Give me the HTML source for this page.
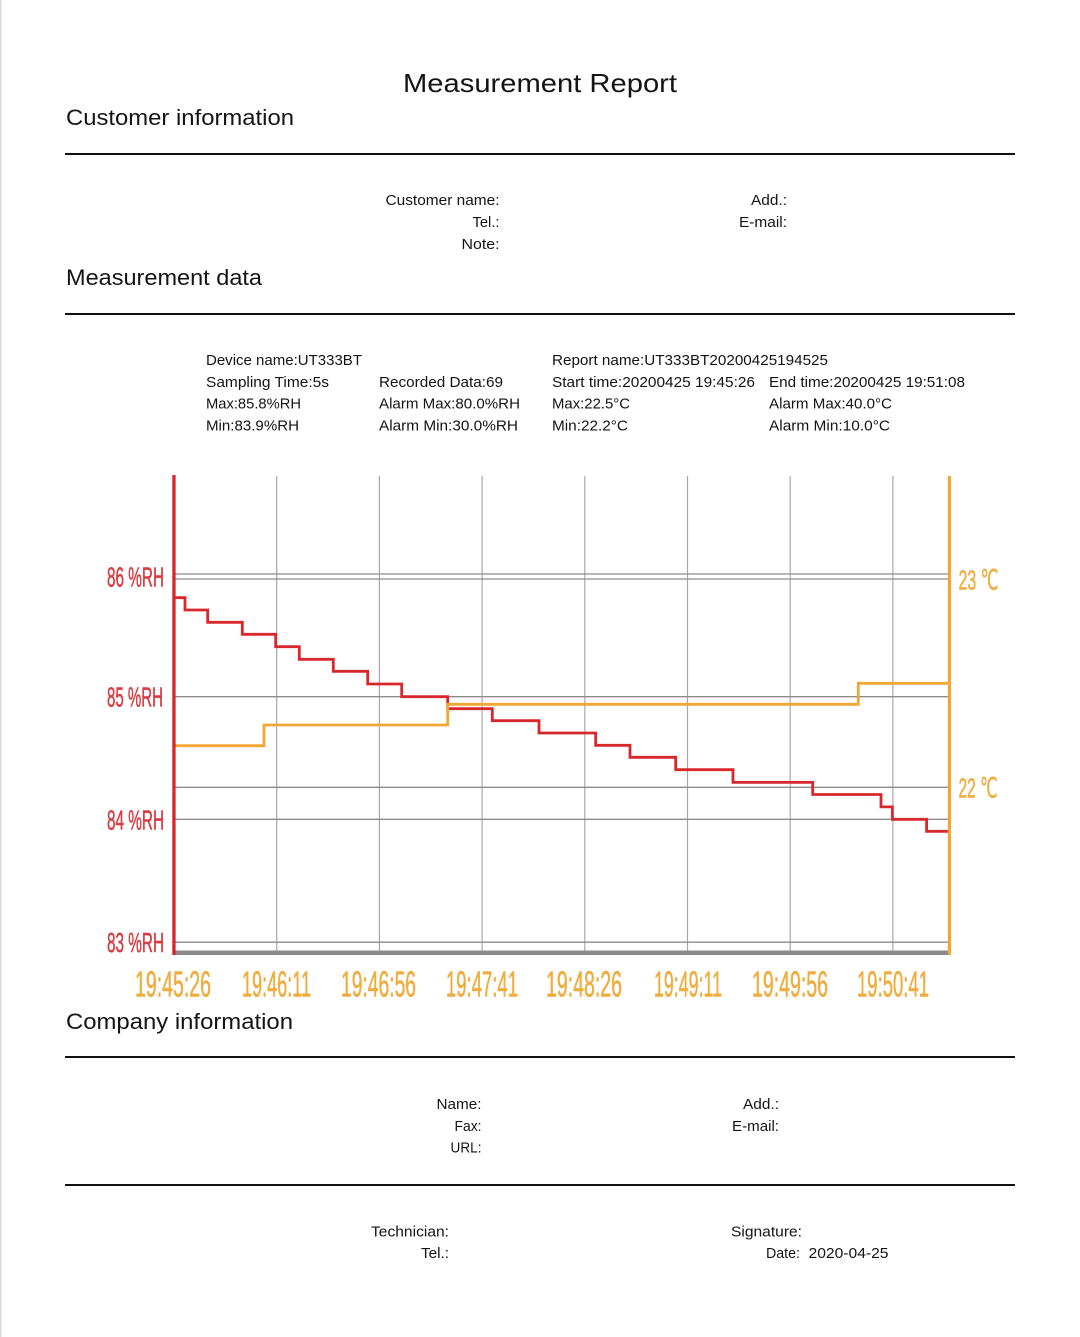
<!DOCTYPE html>
<html>
<head>
<meta charset="utf-8">
<style>
  html,body{margin:0;padding:0;background:#fff;}
  body{width:1080px;height:1337px;overflow:hidden;}
  svg{display:block;}
  .t{font-family:"Liberation Sans","DejaVu Sans",sans-serif;fill:#141414;}
  .c{font-family:"Liberation Sans","DejaVu Sans",sans-serif;}
</style>
</head>
<body>
<svg width="1080" height="1337" viewBox="0 0 1080 1337" xmlns="http://www.w3.org/2000/svg">
  <rect x="0" y="0" width="1080" height="1337" fill="#fff"/>
  <rect x="0" y="0" width="1.5" height="1337" fill="#d8d8d8"/>

  <!-- Title -->
  <text class="t" x="403" y="92" font-size="26" textLength="274" lengthAdjust="spacingAndGlyphs">Measurement Report</text>

  <!-- Customer information -->
  <text class="t" x="66" y="125" font-size="22" textLength="228" lengthAdjust="spacingAndGlyphs">Customer information</text>
  <rect x="65" y="153" width="950" height="2" fill="#111"/>
  <g font-size="15">
    <text class="t" x="499.5" y="205" text-anchor="end" textLength="114" lengthAdjust="spacingAndGlyphs">Customer name:</text>
    <text class="t" x="499.5" y="227" text-anchor="end" textLength="27" lengthAdjust="spacingAndGlyphs">Tel.:</text>
    <text class="t" x="499.5" y="249" text-anchor="end" textLength="38" lengthAdjust="spacingAndGlyphs">Note:</text>
    <text class="t" x="787" y="205" text-anchor="end" textLength="36" lengthAdjust="spacingAndGlyphs">Add.:</text>
    <text class="t" x="787" y="227" text-anchor="end" textLength="48" lengthAdjust="spacingAndGlyphs">E-mail:</text>
  </g>

  <!-- Measurement data -->
  <text class="t" x="66" y="285" font-size="22" textLength="196" lengthAdjust="spacingAndGlyphs">Measurement data</text>
  <rect x="65" y="313" width="950" height="2" fill="#111"/>
  <g font-size="15">
    <text class="t" x="206" y="365" textLength="156" lengthAdjust="spacingAndGlyphs">Device name:UT333BT</text>
    <text class="t" x="552" y="365" textLength="276" lengthAdjust="spacingAndGlyphs">Report name:UT333BT20200425194525</text>

    <text class="t" x="206" y="387" textLength="123" lengthAdjust="spacingAndGlyphs">Sampling Time:5s</text>
    <text class="t" x="379" y="387" textLength="124" lengthAdjust="spacingAndGlyphs">Recorded Data:69</text>
    <text class="t" x="552" y="387" textLength="203" lengthAdjust="spacingAndGlyphs">Start time:20200425 19:45:26</text>
    <text class="t" x="769" y="387" textLength="196" lengthAdjust="spacingAndGlyphs">End time:20200425 19:51:08</text>

    <text class="t" x="206" y="408.5" textLength="95" lengthAdjust="spacingAndGlyphs">Max:85.8%RH</text>
    <text class="t" x="379" y="408.5" textLength="141" lengthAdjust="spacingAndGlyphs">Alarm Max:80.0%RH</text>
    <text class="t" x="552" y="408.5" textLength="78" lengthAdjust="spacingAndGlyphs">Max:22.5°C</text>
    <text class="t" x="769" y="408.5" textLength="123" lengthAdjust="spacingAndGlyphs">Alarm Max:40.0°C</text>

    <text class="t" x="206" y="430.5" textLength="93" lengthAdjust="spacingAndGlyphs">Min:83.9%RH</text>
    <text class="t" x="379" y="430.5" textLength="139" lengthAdjust="spacingAndGlyphs">Alarm Min:30.0%RH</text>
    <text class="t" x="552" y="430.5" textLength="76" lengthAdjust="spacingAndGlyphs">Min:22.2°C</text>
    <text class="t" x="769" y="430.5" textLength="121" lengthAdjust="spacingAndGlyphs">Alarm Min:10.0°C</text>
  </g>

  <!-- Chart grid -->
  <g stroke="#a8a8a8" stroke-width="1.2">
    <line x1="276.7" y1="476" x2="276.7" y2="952"/>
    <line x1="379.4" y1="476" x2="379.4" y2="952"/>
    <line x1="482.1" y1="476" x2="482.1" y2="952"/>
    <line x1="584.8" y1="476" x2="584.8" y2="952"/>
    <line x1="687.5" y1="476" x2="687.5" y2="952"/>
    <line x1="790.2" y1="476" x2="790.2" y2="952"/>
    <line x1="892.9" y1="476" x2="892.9" y2="952"/>
  </g>
  <g stroke="#8c8c8c" stroke-width="1.3">
    <line x1="174" y1="574" x2="949" y2="574"/>
    <line x1="174" y1="579" x2="949" y2="579"/>
    <line x1="174" y1="696.7" x2="949" y2="696.7"/>
    <line x1="174" y1="787.3" x2="949" y2="787.3"/>
    <line x1="174" y1="819.3" x2="949" y2="819.3"/>
    <line x1="174" y1="942.2" x2="949" y2="942.2"/>
  </g>
  <!-- bottom axis -->
  <rect x="174" y="950.5" width="776" height="4.5" fill="#8a8a8a"/>

  <!-- Series: humidity (red) -->
  <path d="M174,597.7 H185 V610 H207.7 V622.3 H242.3 V634.3 H275.7 V646.7 H299.3 V659.3 H333.3 V671.3 H367.7 V684 H401.7 V696.7 H447.7 V708.7 H492.3 V720.7 H539 V733 H595.7 V745.3 H630 V757.3 H675.7 V769.7 H733 V782.4 H812.7 V794.5 H881 V806.9 H892.4 V819.3 H926.6 V831.3 H949"
        fill="none" stroke="#d8272d" stroke-width="2.8" stroke-linejoin="miter"/>
  <!-- Series: temperature (orange) -->
  <path d="M174,745.7 H264 V725 H447.7 V704.3 H858.3 V683.3 H949"
        fill="none" stroke="#f0a733" stroke-width="2.8" stroke-linejoin="miter"/>

  <!-- axes -->
  <rect x="172.3" y="475" width="3.3" height="480" fill="#d6262c"/>
  <rect x="947.8" y="476" width="3.2" height="479" fill="#f0a733"/>

  <!-- Left labels -->
  <g class="c" fill="#d93a40" stroke="#d93a40" stroke-width="0.5" font-size="28">
    <text x="107" y="586.5" textLength="57" lengthAdjust="spacingAndGlyphs">86 %RH</text>
    <text x="107" y="706.7" textLength="56" lengthAdjust="spacingAndGlyphs">85 %RH</text>
    <text x="107" y="829.5" textLength="57" lengthAdjust="spacingAndGlyphs">84 %RH</text>
    <text x="107" y="952" textLength="57" lengthAdjust="spacingAndGlyphs">83 %RH</text>
  </g>
  <!-- Right labels -->
  <g class="c" fill="#efad3e" stroke="#efad3e" stroke-width="0.5" font-size="28">
    <text x="958.5" y="589.5" textLength="40" lengthAdjust="spacingAndGlyphs">23 ℃</text>
    <text x="958.5" y="797.5" textLength="39" lengthAdjust="spacingAndGlyphs">22 ℃</text>
  </g>
  <!-- Time labels -->
  <g class="c" fill="#efad3e" stroke="#efad3e" stroke-width="0.6" font-size="36" text-anchor="middle">
    <text x="173" y="996.7" textLength="76" lengthAdjust="spacingAndGlyphs">19:45:26</text>
    <text x="276.5" y="996.7" textLength="69" lengthAdjust="spacingAndGlyphs">19:46:11</text>
    <text x="378.5" y="996.7" textLength="75" lengthAdjust="spacingAndGlyphs">19:46:56</text>
    <text x="482" y="996.7" textLength="72" lengthAdjust="spacingAndGlyphs">19:47:41</text>
    <text x="584" y="996.7" textLength="76" lengthAdjust="spacingAndGlyphs">19:48:26</text>
    <text x="688" y="996.7" textLength="68" lengthAdjust="spacingAndGlyphs">19:49:11</text>
    <text x="790" y="996.7" textLength="76" lengthAdjust="spacingAndGlyphs">19:49:56</text>
    <text x="893" y="996.7" textLength="72" lengthAdjust="spacingAndGlyphs">19:50:41</text>
  </g>

  <!-- Company information -->
  <text class="t" x="66" y="1029" font-size="22" textLength="227" lengthAdjust="spacingAndGlyphs">Company information</text>
  <rect x="65" y="1056" width="950" height="2" fill="#111"/>
  <g font-size="15">
    <text class="t" x="481.5" y="1109" text-anchor="end" textLength="45" lengthAdjust="spacingAndGlyphs">Name:</text>
    <text class="t" x="481.5" y="1131" text-anchor="end" textLength="27" lengthAdjust="spacingAndGlyphs">Fax:</text>
    <text class="t" x="481.5" y="1152.5" text-anchor="end" textLength="31" lengthAdjust="spacingAndGlyphs">URL:</text>
    <text class="t" x="779" y="1109" text-anchor="end" textLength="36" lengthAdjust="spacingAndGlyphs">Add.:</text>
    <text class="t" x="779" y="1131" text-anchor="end" textLength="47" lengthAdjust="spacingAndGlyphs">E-mail:</text>
  </g>
  <rect x="65" y="1184" width="950" height="2" fill="#111"/>
  <g font-size="15">
    <text class="t" x="449" y="1236.5" text-anchor="end" textLength="78" lengthAdjust="spacingAndGlyphs">Technician:</text>
    <text class="t" x="449" y="1258" text-anchor="end" textLength="28" lengthAdjust="spacingAndGlyphs">Tel.:</text>
    <text class="t" x="731" y="1236.5" textLength="71" lengthAdjust="spacingAndGlyphs">Signature:</text>
    <text class="t" x="766" y="1258" textLength="34" lengthAdjust="spacingAndGlyphs">Date:</text>
    <text class="t" x="808.5" y="1258" textLength="80" lengthAdjust="spacingAndGlyphs">2020-04-25</text>
  </g>
</svg>
</body>
</html>
